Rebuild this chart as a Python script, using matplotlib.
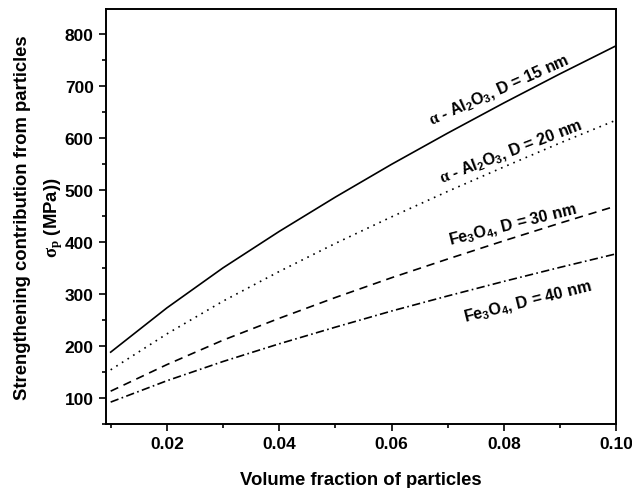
import matplotlib
matplotlib.use("Agg")
import matplotlib.pyplot as plt
from matplotlib.ticker import MultipleLocator

plt.rcParams['font.family'] = ['Liberation Sans', 'DejaVu Sans']
plt.rcParams['font.weight'] = 'bold'
plt.rcParams['mathtext.fontset'] = 'custom'
plt.rcParams['mathtext.rm'] = 'Liberation Sans:bold'
plt.rcParams['mathtext.it'] = 'Liberation Serif'
plt.rcParams['mathtext.bf'] = 'Liberation Sans:bold'

# volume fraction of particles
frac = [0.01, 0.02, 0.03, 0.04, 0.05, 0.06, 0.07, 0.08, 0.09, 0.10]
# strengthening contribution (MPa)
al2o3_15 = [188, 273, 350, 420, 486, 549, 609, 667, 723, 777]
al2o3_20 = [154, 223, 286, 343, 397, 448, 497, 544, 590, 634]
fe3o4_30 = [113, 164, 211, 253, 293, 331, 367, 402, 436, 469]
fe3o4_40 = [92, 133, 170, 204, 236, 267, 296, 324, 351, 377]

labels = [r'$\alpha$ - Al$_2$O$_3$, D = 15 nm',
          r'$\alpha$ - Al$_2$O$_3$, D = 20 nm',
          r'Fe$_3$O$_4$, D = 30 nm',
          r'Fe$_3$O$_4$, D = 40 nm']

fig = plt.figure(figsize=(6.32, 4.89), dpi=100)
ax = fig.add_axes([0.168, 0.131, 0.807, 0.849])

ax.plot(frac, al2o3_15, color='black', lw=1.2, ls='-')
ax.plot(frac, al2o3_20, color='black', lw=1.2, ls=(0, (1, 3)))
ax.plot(frac, fe3o4_30, color='black', lw=1.2, ls=(0, (5, 3.5)))
ax.plot(frac, fe3o4_40, color='black', lw=1.2, ls=(0, (5, 2, 1, 2)))

# curve labels, rotated along each line
ax.text(0.0792, 694, labels[0], rotation=24, ha='center', va='center', fontsize=11.6)
ax.text(0.0813, 575, labels[1], rotation=21, ha='center', va='center', fontsize=11.6)
ax.text(0.0815, 436, labels[2], rotation=14, ha='center', va='center', fontsize=11.6)
ax.text(0.0842, 288, labels[3], rotation=14, ha='center', va='center', fontsize=11.6)

ax.set_xlim(0.0092, 0.10)
ax.set_ylim(50, 848)
ax.xaxis.set_minor_locator(MultipleLocator(0.01))
ax.yaxis.set_minor_locator(MultipleLocator(50))
ax.set_xticks([0.02, 0.04, 0.06, 0.08, 0.10])
ax.set_xticklabels(['0.02', '0.04', '0.06', '0.08', '0.10'])
ax.set_yticks([100, 200, 300, 400, 500, 600, 700, 800])
ax.tick_params(which='major', direction='out', length=5, width=1.2, labelsize=12.5, pad=4)
ax.tick_params(which='minor', direction='out', length=3, width=1.2)
for s in ax.spines.values():
    s.set_linewidth(1.4)

ax.set_xlabel('Volume fraction of particles', fontsize=13.3, fontweight='bold', labelpad=14)
ax.set_ylabel('Strengthening contribution from particles\n' + r'$\sigma_p$ (MPa))',
              fontsize=13.3, fontweight='bold', linespacing=1.75)
ax.yaxis.set_label_coords(-0.08, 0.5)

fig.savefig('out.png', dpi=100)
